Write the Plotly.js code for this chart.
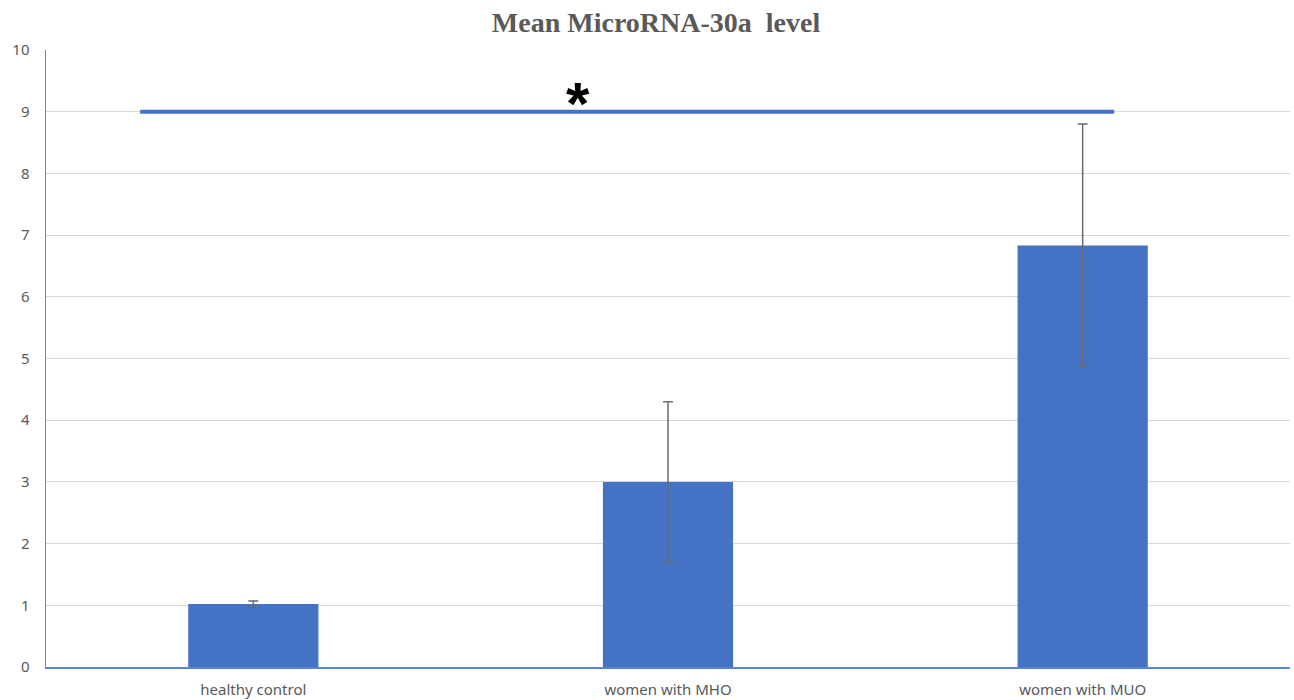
<!DOCTYPE html>
<html>
<head>
<meta charset="utf-8">
<script src="https://cdn.plot.ly/plotly-3.0.1.min.js"></script>
<style>html,body{margin:0;padding:0;background:#fff;}#chart{width:1294px;height:700px;}</style>
</head>
<body>
<div id="chart"></div>
<script>
var categories = ["healthy control", "women with MHO", "women with MUO"];
var meanValues = [1.02, 3.0, 6.83];
var errorValues = [0.05, 1.3, 1.97];
var sigLineY = 9;
var sigLineFrom = -0.273;
var sigLineTo = 2.076;
var sigLabel = "*";

var trace = {
  type: "bar",
  x: categories,
  y: meanValues,
  marker: {color: "#4472C4"},
  error_y: {type: "data", array: errorValues, visible: true, color: "#6b6b6b", thickness: 1.5, width: 5},
  hoverinfo: "x+y"
};

var layout = {
  width: 1294, height: 700,
  margin: {l: 46, r: 4, t: 50, b: 33},
  paper_bgcolor: "#fff", plot_bgcolor: "#fff",
  title: {text: "<b>Mean MicroRNA-30a  level</b>", x: 0.507, xanchor: "center", y: 0.968, yanchor: "middle",
          font: {family: "Liberation Serif, Times New Roman, serif", size: 28, color: "#595959"}},
  bargap: 0.686,
  showlegend: false,
  xaxis: {
    type: "category",
    showline: true, linecolor: "#5B86D1", linewidth: 1.5,
    showgrid: false, ticks: "", ticklabelstandoff: 8,
    tickfont: {family: "Noto Sans, Open Sans, sans-serif", size: 15, color: "#595959"}
  },
  yaxis: {
    range: [0, 10], dtick: 1, tick0: 0,
    showline: true, linecolor: "#5B86D1", linewidth: 1.5,
    showgrid: true, gridcolor: "#D9D9D9", gridwidth: 1, zeroline: false,
    ticks: "", ticklabelstandoff: 12,
    tickfont: {family: "Noto Sans, Open Sans, sans-serif", size: 15, color: "#595959"}
  },
  shapes: [{type: "line", xref: "x", yref: "y", x0: sigLineFrom, x1: sigLineTo, y0: sigLineY, y1: sigLineY,
            line: {color: "#4472C4", width: 4}}],
  annotations: [{xref: "x", yref: "y", x: 0.782, y: 8.55, text: "<b>" + sigLabel + "</b>", showarrow: false,
                 yanchor: "bottom", font: {family: "Liberation Sans, Arial, sans-serif", size: 60, color: "#000"}}]
};

Plotly.newPlot("chart", [trace], layout, {displayModeBar: false, staticPlot: true});
</script>
</body>
</html>
